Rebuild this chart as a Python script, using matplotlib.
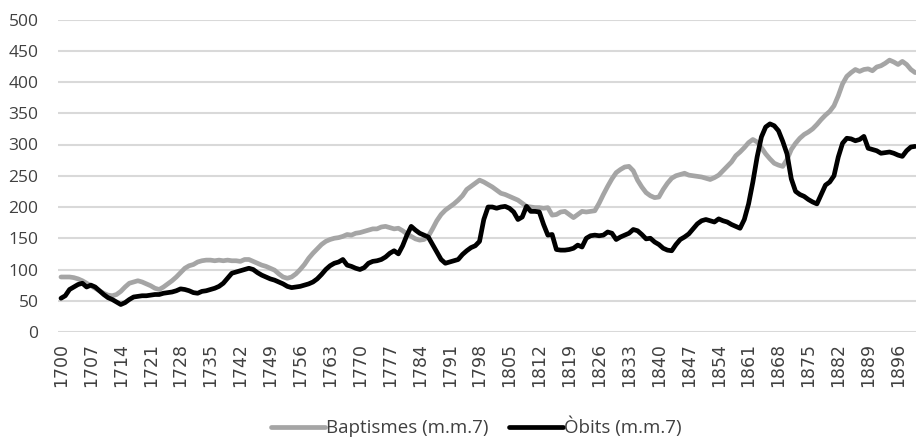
import matplotlib
matplotlib.use("Agg")
import matplotlib.pyplot as plt
import numpy as np

years = list(range(1700, 1901))

baptismes = [
    88, 88, 88, 87, 85, 82, 78, 74, 70, 66,            # 1700-1709
    62, 59, 58, 60, 65, 72, 78, 80, 82, 80,            # 1710-1719
    77, 74, 70, 68, 72, 77, 82, 88, 95, 102,           # 1720-1729
    106, 108, 112, 114, 115, 115, 114, 115, 114, 115,  # 1730-1739
    114, 114, 113, 116, 116, 113, 110, 107, 105, 102,  # 1740-1749
    99, 93, 88, 86, 88, 93, 100, 108, 118, 126,        # 1750-1759
    133, 140, 145, 148, 150, 151, 153, 156, 155, 158,  # 1760-1769
    159, 161, 163, 165, 165, 168, 169, 167, 165, 166,  # 1770-1779
    162, 157, 153, 149, 147, 148, 153, 165, 178, 188,  # 1780-1789
    195, 200, 205, 211, 218, 228, 233, 238, 243, 240,  # 1790-1799
    236, 232, 227, 222, 220, 217, 214, 211, 206, 201,  # 1800-1809
    200, 199, 199, 198, 199, 187, 188, 192, 193, 188,  # 1810-1819
    183, 188, 193, 192, 193, 194, 206, 220, 233, 245,  # 1820-1829
    255, 260, 264, 265, 258, 243, 232, 223, 218, 215,  # 1830-1839
    216, 228, 238, 246, 250, 252, 254, 251, 250, 249,  # 1840-1849
    248, 246, 244, 247, 251, 258, 265, 272, 282, 288,  # 1850-1859
    295, 303, 308, 304, 295, 285, 277, 270, 267, 265,  # 1860-1869
    276, 292, 302, 310, 316, 320, 325, 332, 340, 347,  # 1870-1879
    353, 362, 378, 397, 409, 415, 420, 417, 420, 421,  # 1880-1889
    418, 424, 426, 430, 435, 432, 428, 433, 428, 420,  # 1890-1899
    415,                                               # 1900
]

obits = [
    54, 58, 68, 72, 76, 78, 72, 75, 72, 66,            # 1700-1709
    60, 55, 52, 48, 44, 47, 52, 56, 57, 58,            # 1710-1719
    58, 59, 60, 60, 62, 63, 64, 66, 69, 68,            # 1720-1729
    66, 63, 62, 65, 66, 68, 70, 73, 78, 86,            # 1730-1739
    94, 96, 98, 100, 102, 100, 95, 91, 88, 85,         # 1740-1749
    83, 80, 77, 73, 71, 72, 73, 75, 77, 80,            # 1750-1759
    85, 92, 100, 106, 110, 112, 116, 107, 105, 102,    # 1760-1769
    100, 103, 110, 113, 114, 116, 120, 126, 130, 125,  # 1770-1779
    138, 155, 169, 163, 158, 155, 152, 140, 128, 116,  # 1780-1789
    110, 112, 114, 116, 124, 130, 135, 138, 145, 180,  # 1790-1799
    200, 200, 198, 200, 201, 198, 192, 180, 184, 201,  # 1800-1809
    193, 193, 192, 172, 155, 156, 132, 131, 131, 132,  # 1810-1819
    134, 139, 136, 150, 154, 155, 154, 155, 160, 158,  # 1820-1829
    148, 152, 155, 158, 164, 162, 156, 149, 150, 144,  # 1830-1839
    140, 134, 131, 130, 140, 148, 152, 157, 165, 173,  # 1840-1849
    178, 180, 178, 176, 181, 178, 176, 172, 169, 166,  # 1850-1859
    180, 205, 240, 280, 312, 328, 333, 330, 322, 305,  # 1860-1869
    285, 245, 225, 220, 217, 212, 208, 205, 220, 235,  # 1870-1879
    240, 250, 280, 302, 310, 309, 306, 308, 313, 294,  # 1880-1889
    292, 290, 286, 287, 288, 286, 283, 281, 290, 296,  # 1890-1899
    297,                                               # 1900
]

xtick_years = list(range(1700, 1901, 7))
ytick_values = list(range(0, 501, 50))

series_labels = ["Baptismes (m.m.7)", "Òbits (m.m.7)"]

W, H = 916, 438
fig = plt.figure(figsize=(W / 100, H / 100), dpi=100)
ax = fig.add_axes([58 / W, 1 - 332 / H, (W - 58) / W, (332 - 19.5) / H])

ax.plot(years, baptismes, color="#A5A5A5", lw=3.4, solid_capstyle="round",
        solid_joinstyle="round", label=series_labels[0], zorder=3)
ax.plot(years, obits, color="#000000", lw=3.4, solid_capstyle="round",
        solid_joinstyle="round", label=series_labels[1], zorder=4)

ax.set_xlim(1699.3, 1900.2)
ax.set_ylim(0, 500)
ax.set_yticks(ytick_values)
ax.set_yticklabels([str(v) for v in ytick_values], fontfamily="Open Sans",
                   fontsize=12.5, color="#404040")
ax.set_xticks(xtick_years)
ax.set_xticklabels([str(y) for y in xtick_years], rotation=90,
                   fontfamily="DejaVu Sans", fontsize=12.5, color="#404040")
ax.tick_params(axis="both", length=0)
ax.tick_params(axis="y", pad=14)
ax.tick_params(axis="x", pad=8)
ax.grid(axis="y", color="#D9D9D9", lw=1.5)
ax.set_axisbelow(True)
for s in ax.spines.values():
    s.set_visible(False)

fig.legend(loc="center", bbox_to_anchor=(0.52, 1 - 427 / H), ncol=2,
           frameon=False, prop={"family": "Open Sans", "size": 13.5},
           handlelength=2.9, handletextpad=0.05, columnspacing=1.1,
           labelcolor="#404040")

fig.savefig("out.png", dpi=100)
